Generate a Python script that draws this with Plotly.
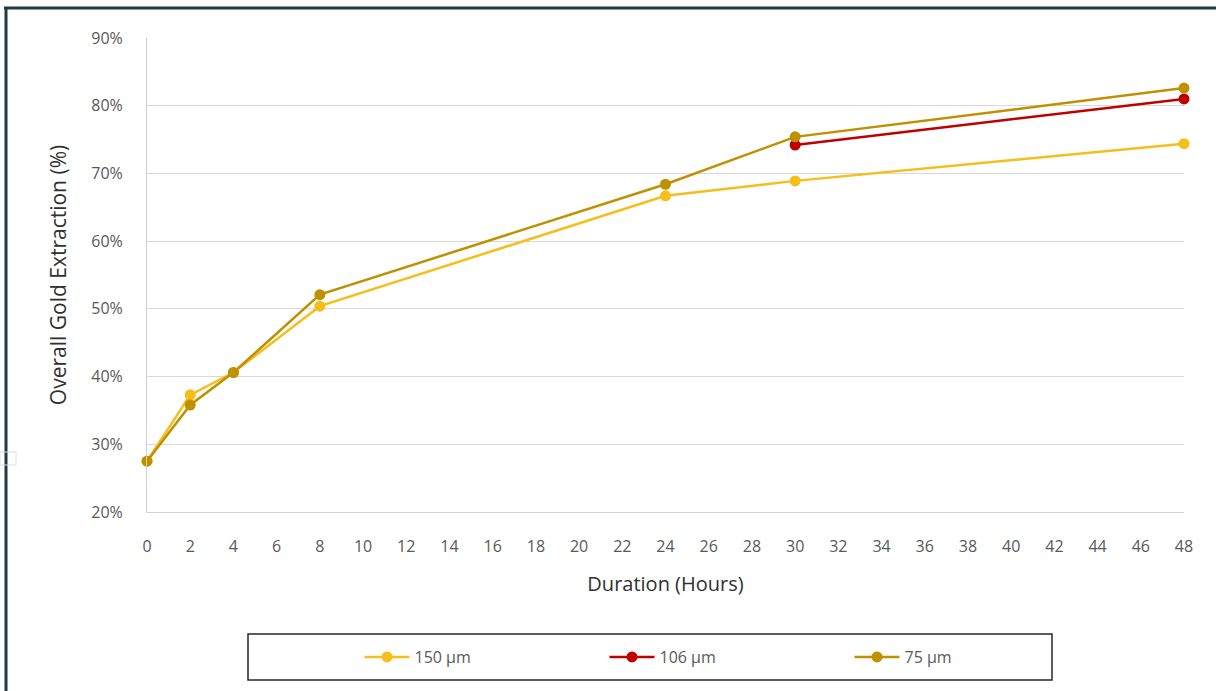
import plotly.graph_objects as go

hours = [0, 2, 4, 8, 24, 30, 48]
s150 = [27.5, 37.3, 40.6, 50.4, 66.7, 68.9, 74.4]
s106 = [None, None, None, None, None, 74.2, 81.0]
s75 = [27.5, 35.8, 40.6, 52.1, 68.4, 75.4, 82.6]
names = ["150 µm", "106 µm", "75 µm"]
colors = ["#F5BE1A", "#C00000", "#BF9000"]
xticks = list(range(0, 49, 2))
yticks = [20, 30, 40, 50, 60, 70, 80, 90]

W, H = 1216, 691
L, R, T, B = 147, 32, 38, 179
pw, ph = W - L - R, H - T - B

def px(x):
    return (x - L) / pw

def py(y):
    return (H - B - y) / ph

fig = go.Figure()
for name, vals, col in zip(names, [s150, s106, s75], colors):
    fig.add_trace(go.Scatter(
        x=hours, y=[None if v is None else v / 100 for v in vals], name=name,
        mode="lines+markers", line=dict(color=col, width=2.5),
        marker=dict(color=col, size=11), cliponaxis=False))

fig.update_layout(
    width=W, height=H, margin=dict(l=L, r=R, t=T, b=B),
    paper_bgcolor="white", plot_bgcolor="white",
    font=dict(family="Open Sans, sans-serif", color="#595959"),
    xaxis=dict(range=[0, 48], tickvals=xticks, ticktext=[str(t) for t in xticks],
               showgrid=False, showline=True, linecolor="#D0D0D0", linewidth=1,
               ticks="", tickfont=dict(size=16), zeroline=False, ticklabelstandoff=20,
               title=dict(text="Duration (Hours)", font=dict(size=20, color="#303030"), standoff=20)),
    yaxis=dict(range=[0.2, 0.9], tickvals=[t / 100 for t in yticks],
               ticktext=[f"{t}%" for t in yticks], showgrid=True, gridcolor="#D9D9D9",
               showline=True, linecolor="#D0D0D0", linewidth=1, ticks="",
               tickfont=dict(size=16), zeroline=False, ticklabelstandoff=20,
               title=dict(text="Overall Gold Extraction (%)", font=dict(size=21, color="#303030"), standoff=18)),
    legend=dict(orientation="h", x=px(727), xanchor="center", y=py(657), yanchor="middle",
                font=dict(size=16, color="#595959"), entrywidth=185, entrywidthmode="pixels",
                itemwidth=45, bgcolor="rgba(0,0,0,0)", traceorder="normal"),
    showlegend=True,
)

shapes = [
    dict(type="rect", xref="paper", yref="paper", x0=px(248), x1=px(1052), y0=py(680), y1=py(634),
         line=dict(color="#262626", width=1.5)),
    dict(type="line", xref="paper", yref="paper", x0=px(4), x1=px(1216), y0=py(8), y1=py(8),
         line=dict(color="#1F3A40", width=3)),
    dict(type="line", xref="paper", yref="paper", x0=px(6), x1=px(6), y0=py(8), y1=py(691),
         line=dict(color="#1F3A40", width=3)),
    dict(type="rect", xref="paper", yref="paper", x0=px(0), x1=px(16), y0=py(465), y1=py(452),
         line=dict(color="#DDDDDD", width=1)),
]
fig.update_layout(shapes=shapes)

fig.write_html("out.html", config={"displayModeBar": False},
               post_script="document.body.style.margin='0';document.body.style.padding='0';")
